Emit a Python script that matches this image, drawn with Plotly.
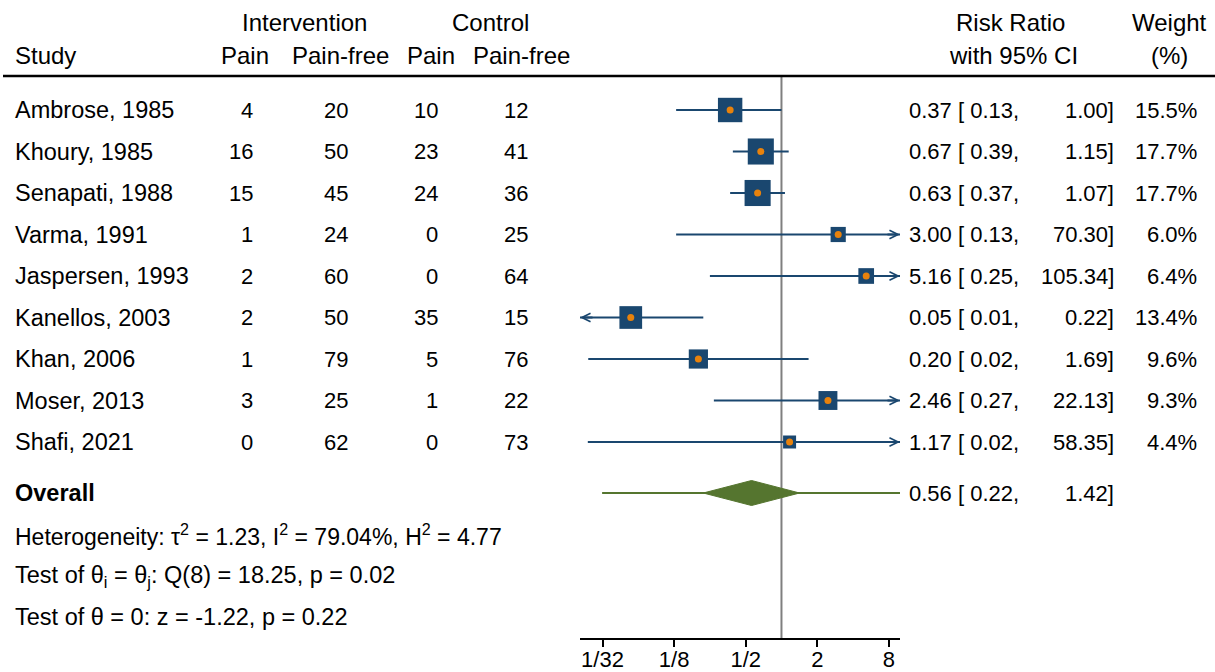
import numpy as np
import plotly.graph_objects as go

# ---------------- data ----------------
studies = ["Ambrose, 1985", "Khoury, 1985", "Senapati, 1988", "Varma, 1991",
           "Jaspersen, 1993", "Kanellos, 2003", "Khan, 2006", "Moser, 2013", "Shafi, 2021"]
int_pain = [4, 16, 15, 1, 2, 2, 1, 3, 0]
int_free = [20, 50, 45, 24, 60, 50, 79, 25, 62]
ctl_pain = [10, 23, 24, 0, 0, 35, 5, 1, 0]
ctl_free = [12, 41, 36, 25, 64, 15, 76, 22, 73]
rr = [0.37, 0.67, 0.63, 3.00, 5.16, 0.054, 0.20, 2.46, 1.17]
rr_lo = [0.13, 0.39, 0.37, 0.13, 0.25, 0.013, 0.0237, 0.27, 0.0235]
rr_hi = [1.00, 1.15, 1.07, 70.30, 105.34, 0.22, 1.69, 22.13, 58.35]
weight = [15.5, 17.7, 17.7, 6.0, 6.4, 13.4, 9.6, 9.3, 4.4]

overall_rr, overall_lo, overall_hi = 0.56, 0.22, 1.42
pred_lo, pred_hi = 0.031, 10.0

tau2, i2, h2 = 1.23, 79.04, 4.77
q_stat, q_df, q_p = 18.25, 8, 0.02
z_stat, z_p = -1.22, 0.22

tick_vals = [1/32, 1/8, 1/2, 2, 8]
tick_text = ["1/32", "1/8", "1/2", "2", "8"]
x_min, x_max = 0.0202, 9.93

# ---------------- style ----------------
W, H = 1215, 672
FONT = "Liberation Sans, Arial, sans-serif"
FS = 22        # numbers
FS_W = 23.5    # words
FS_H = 24      # headers
NAVY = "#1a476f"
ORANGE = "#e8820c"
GREEN = "#55752f"
GREY = "#7f7f7f"

row_px0, row_step = 110.0, 41.5
def px_to_row(py):
    return (py - row_px0) / row_step

axis_px = 638
y_top = px_to_row(0)
y_bot = px_to_row(axis_px)

n = len(studies)
rows = list(range(n))
overall_row = px_to_row(493)
stat_rows = [px_to_row(535), px_to_row(576), px_to_row(617)]
hdr1_row = px_to_row(22)
hdr2_row = px_to_row(55)
rule_row = px_to_row(76)

fig = go.Figure()

# reference line at 1
fig.add_trace(go.Scatter(x=[1, 1], y=[rule_row, y_bot], mode="lines",
                         line=dict(color=GREY, width=2), hoverinfo="skip", showlegend=False))

# CI lines
for i in range(n):
    fig.add_trace(go.Scatter(x=[rr_lo[i], rr_hi[i]], y=[rows[i], rows[i]], mode="lines",
                             line=dict(color=NAVY, width=2), hoverinfo="skip", showlegend=False))

# squares
fig.add_trace(go.Scatter(x=rr, y=rows, mode="markers",
                         marker=dict(symbol="square", color=NAVY, opacity=1,
                                     size=[6.2 * np.sqrt(w) for w in weight], line=dict(width=0)),
                         hoverinfo="skip", showlegend=False))
# orange point markers
fig.add_trace(go.Scatter(x=rr, y=rows, mode="markers",
                         marker=dict(symbol="circle", color=ORANGE, size=7, opacity=1,
                                     line=dict(width=0)),
                         hoverinfo="skip", showlegend=False))

# prediction interval line
fig.add_trace(go.Scatter(x=[pred_lo, pred_hi], y=[overall_row, overall_row], mode="lines",
                         line=dict(color=GREEN, width=2), hoverinfo="skip", showlegend=False))
# overall diamond
dh = 12.5 / row_step
fig.add_trace(go.Scatter(x=[overall_lo, overall_rr, overall_hi, overall_rr, overall_lo],
                         y=[overall_row, overall_row - dh, overall_row, overall_row + dh, overall_row],
                         mode="lines", fill="toself", fillcolor=GREEN,
                         line=dict(color=GREEN, width=1), hoverinfo="skip", showlegend=False))

annotations = []

def txt(x_px, y_row, text, anchor="left", size=FS):
    annotations.append(dict(x=x_px / W, y=y_row, xref="paper", yref="y", text=text,
                            showarrow=False, xanchor=anchor, yanchor="middle",
                            font=dict(family=FONT, size=size, color="black")))

# arrows for CIs beyond axis range
for i in range(n):
    if rr_hi[i] > x_max:
        annotations.append(dict(x=np.log10(x_max), y=rows[i], xref="x", yref="y",
                                ax=-14, ay=0, axref="pixel", ayref="pixel", text="",
                                showarrow=True, arrowhead=5, arrowsize=0.85, arrowwidth=2,
                                arrowcolor=NAVY))
    if rr_lo[i] < x_min:
        annotations.append(dict(x=np.log10(x_min), y=rows[i], xref="x", yref="y",
                                ax=14, ay=0, axref="pixel", ayref="pixel", text="",
                                showarrow=True, arrowhead=5, arrowsize=0.85, arrowwidth=2,
                                arrowcolor=NAVY))

# headers
txt(304, hdr1_row, "Intervention", "center", FS_H)
txt(490, hdr1_row, "Control", "center", FS_H)
txt(1010, hdr1_row, "Risk Ratio", "center", FS_H)
txt(1169, hdr1_row, "Weight", "center", FS_H)
txt(13, hdr2_row, "Study", "left", FS_H)
txt(245, hdr2_row, "Pain", "center", FS_H)
txt(340, hdr2_row, "Pain-free", "center", FS_H)
txt(431, hdr2_row, "Pain", "center", FS_H)
txt(521, hdr2_row, "Pain-free", "center", FS_H)
txt(1013, hdr2_row, "with 95% CI", "center", FS_H)
txt(1169, hdr2_row, "(%)", "center", FS_H)

# study rows
for i in range(n):
    r = rows[i]
    txt(13, r, studies[i], "left", FS_W)
    txt(255, r, str(int_pain[i]), "right")
    txt(350, r, str(int_free[i]), "right")
    txt(440, r, str(ctl_pain[i]), "right")
    txt(530, r, str(ctl_free[i]), "right")
    txt(907, r, f"{rr[i]:.2f} [ {rr_lo[i]:.2f},", "left")
    txt(1116, r, f"{rr_hi[i]:.2f}]", "right")
    txt(1199, r, f"{weight[i]:.1f}%", "right")

# overall
txt(13, overall_row, "<b>Overall</b>", "left", FS_W)
txt(907, overall_row, f"{overall_rr:.2f} [ {overall_lo:.2f},", "left")
txt(1116, overall_row, f"{overall_hi:.2f}]", "right")

txt(13, stat_rows[0],
    f"Heterogeneity: τ<sup>2</sup> = {tau2:.2f}, I<sup>2</sup> = {i2:.2f}%, H<sup>2</sup> = {h2:.2f}",
    "left", 23)
txt(13, stat_rows[1],
    f"Test of θ<sub>i</sub> = θ<sub>j</sub>: Q({q_df}) = {q_stat:.2f}, p = {q_p:.2f}", "left", FS_W)
txt(13, stat_rows[2], f"Test of θ = 0: z = {z_stat:.2f}, p = {z_p:.2f}", "left", FS_W)

shapes = [dict(type="line", xref="paper", yref="y", x0=3 / W, x1=1, y0=rule_row, y1=rule_row,
               line=dict(color="black", width=2.5))]

fig.update_layout(
    width=W, height=H, margin=dict(l=0, r=0, t=0, b=0, autoexpand=False),
    paper_bgcolor="white", plot_bgcolor="white",
    showlegend=False, annotations=annotations, shapes=shapes,
    font=dict(family=FONT, size=FS, color="black"),
    xaxis=dict(type="log", range=[np.log10(x_min), np.log10(x_max)],
               domain=[580 / W, 900 / W], showgrid=False, zeroline=False, automargin=False,
               showline=True, linecolor="black", linewidth=2,
               ticks="outside", ticklen=7, tickwidth=2, tickcolor="black",
               ticklabelstandoff=-6,
               tickvals=tick_vals, ticktext=tick_text,
               tickfont=dict(family=FONT, size=FS, color="black"), fixedrange=True),
    yaxis=dict(range=[y_bot, y_top], domain=[(H - axis_px) / H, 1], visible=False,
               automargin=False, showgrid=False, zeroline=False, fixedrange=True),
)

fig.write_html("out.html", config={"displayModeBar": False},
               post_script="document.body.style.margin='0px';")
